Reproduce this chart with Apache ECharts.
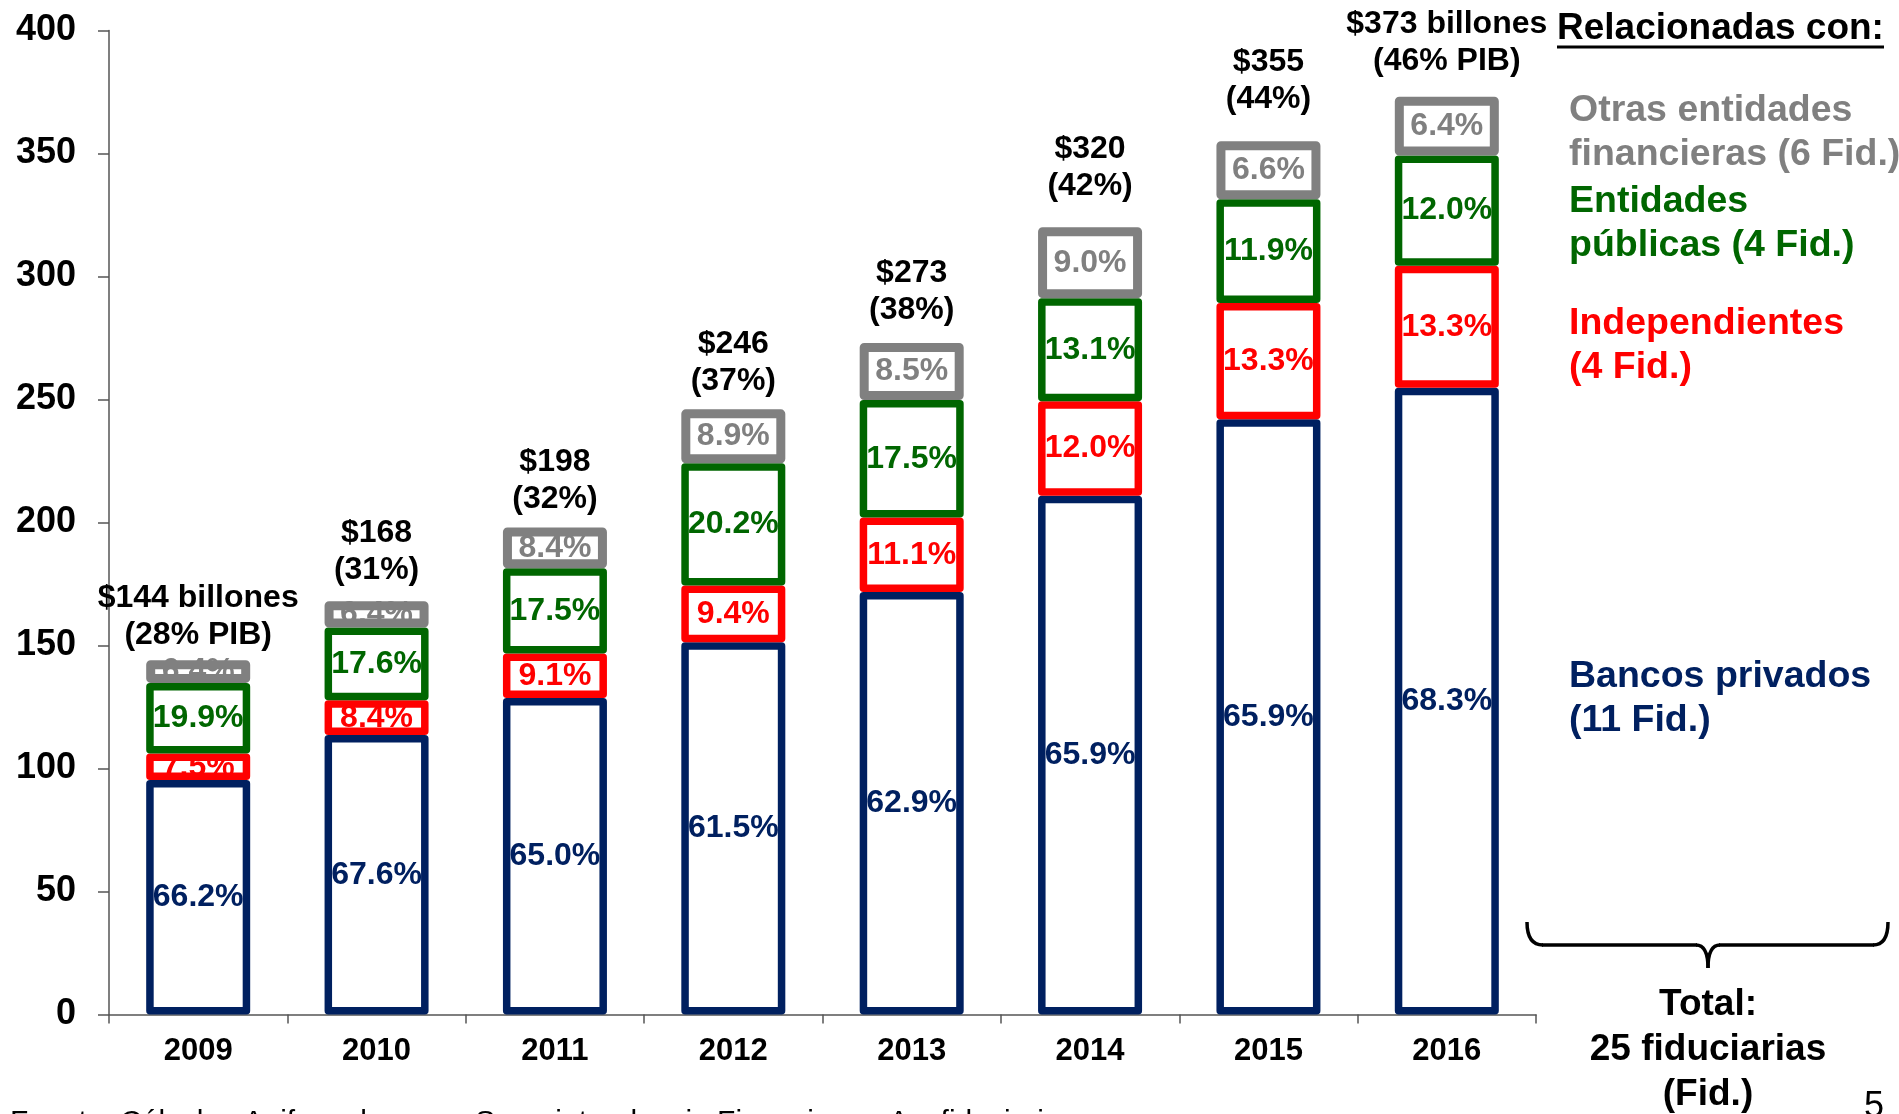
<!DOCTYPE html>
<html>
<head>
<meta charset="utf-8">
<script src="https://cdn.jsdelivr.net/npm/echarts@6/dist/echarts.min.js"></script>
<style>
html,body{margin:0;padding:0;background:#fff;}
#chart{width:1899px;height:1114px;}
</style>
</head>
<body>
<div id="chart"></div>
<script>
// ---- data (billones de pesos) ----
const years = ['2009', '2010', '2011', '2012', '2013', '2014', '2015', '2016'];
const bancos = [95.3, 113.6, 128.7, 151.3, 171.7, 210.9, 242.0, 254.8];
const independientes = [10.8, 14.1, 18.0, 23.1, 30.3, 38.4, 47.2, 49.6];
const publicas = [28.7, 29.6, 34.7, 49.7, 47.8, 41.9, 42.2, 44.8];
const otras = [9.2, 10.7, 16.6, 21.9, 23.2, 28.8, 23.6, 23.9];
const totals = [144, 168, 198, 246, 273, 320, 355, 373];
const totalLabels = ['$144 billones\n(28% PIB)', '$168\n(31%)', '$198\n(32%)', '$246\n(37%)',
  '$273\n(38%)', '$320\n(42%)', '$355\n(44%)', '$373 billones\n(46% PIB)'];
const pctBancos = ['66.2%', '67.6%', '65.0%', '61.5%', '62.9%', '65.9%', '65.9%', '68.3%'];
const pctIndep = ['7.5%', '8.4%', '9.1%', '9.4%', '11.1%', '12.0%', '13.3%', '13.3%'];
const pctPublicas = ['19.9%', '17.6%', '17.5%', '20.2%', '17.5%', '13.1%', '11.9%', '12.0%'];
const pctOtras = ['6.4%', '6.4%', '8.4%', '8.9%', '8.5%', '9.0%', '6.6%', '6.4%'];
const yTicks = { min: 0, max: 400, interval: 50 };

// ---- style ----
const FONT = '"Liberation Sans", Arial, sans-serif';
const NAVY = '#002060', RED = '#FF0000', GREEN = '#006600', GRAY = '#808080';
const BW = 104;
// small vertical nudges (px) of the hand-placed total labels
const totalLabelNudge = [8, 2, 5, 5, 0, -8, -9, -3];

function outlineSeries(name, data, color, border) {
  return {
    name, type: 'bar', stack: 'main', data, barWidth: BW, barGap: '-100%', z: 3,
    silent: true,
    itemStyle: { color: 'rgba(0,0,0,0)', borderColor: color, borderWidth: border, borderJoin: 'round' },
    label: { show: false }
  };
}
function labelSeries(name, data, color, texts) {
  return {
    name: name + '_lbl', type: 'bar', stack: 'lab', data, barWidth: BW, barGap: '-100%', z: 1,
    silent: true,
    itemStyle: { color: 'rgba(0,0,0,0)' },
    label: {
      show: true, position: 'inside', color: color, fontFamily: FONT, fontWeight: 'bold', fontSize: 32,
      formatter: p => texts[p.dataIndex]
    }
  };
}

const chart = echarts.init(document.getElementById('chart'), null, { renderer: 'canvas' });

const graphic = [
  { type: 'text', left: 1557, top: 10, style: { text: 'Relacionadas con:', font: 'bold 37px ' + FONT, fill: '#000' } },
  { type: 'line', shape: { x1: 1557, y1: 47, x2: 1884, y2: 47 }, style: { stroke: '#000', lineWidth: 3 } },
  { type: 'text', left: 1569, top: 89, style: { text: 'Otras entidades\nfinancieras (6 Fid.)', font: 'bold 37.5px ' + FONT, fill: GRAY, lineHeight: 44 } },
  { type: 'text', left: 1569, top: 180, style: { text: 'Entidades\npúblicas (4 Fid.)', font: 'bold 37.5px ' + FONT, fill: GREEN, lineHeight: 44 } },
  { type: 'text', left: 1569, top: 302, style: { text: 'Independientes\n(4 Fid.)', font: 'bold 37.5px ' + FONT, fill: RED, lineHeight: 44 } },
  { type: 'text', left: 1569, top: 655, style: { text: 'Bancos privados\n(11 Fid.)', font: 'bold 37.5px ' + FONT, fill: NAVY, lineHeight: 44 } },
  // bracket
  { type: 'bezierCurve', shape: { x1: 1527, y1: 922, x2: 1543, y2: 945, cpx1: 1527, cpy1: 945 }, style: { stroke: '#000', lineWidth: 3.5, fill: null } },
  { type: 'line', shape: { x1: 1542, y1: 945, x2: 1697, y2: 945 }, style: { stroke: '#000', lineWidth: 3.5 } },
  { type: 'bezierCurve', shape: { x1: 1696, y1: 945, x2: 1708, y2: 968, cpx1: 1708, cpy1: 945 }, style: { stroke: '#000', lineWidth: 3.5, fill: null } },
  { type: 'bezierCurve', shape: { x1: 1708, y1: 968, x2: 1720, y2: 945, cpx1: 1708, cpy1: 945 }, style: { stroke: '#000', lineWidth: 3.5, fill: null } },
  { type: 'line', shape: { x1: 1719, y1: 945, x2: 1874, y2: 945 }, style: { stroke: '#000', lineWidth: 3.5 } },
  { type: 'bezierCurve', shape: { x1: 1873, y1: 945, x2: 1888, y2: 922, cpx1: 1888, cpy1: 945 }, style: { stroke: '#000', lineWidth: 3.5, fill: null } },
  { type: 'text', x: 1708, y: 982, style: { text: 'Total:\n25 fiduciarias\n(Fid.)', font: 'bold 37px ' + FONT, fill: '#000', lineHeight: 45, align: 'center', verticalAlign: 'top' } },
  { type: 'text', x: 1874, y: 1089, style: { text: '5', font: '36px ' + FONT, fill: '#000', align: 'center', verticalAlign: 'top' } },
  { type: 'text', x: 10, y: 1108, style: { text: 'Fuente: Cálculos Anif con base en Superintendencia Financiera y Asofiduciarias.', font: '30px ' + FONT, fill: '#000', verticalAlign: 'top' } }
];

chart.setOption({
  animation: false,
  backgroundColor: '#fff',
  grid: { left: 109, right: 363, top: 30.5, bottom: 99.5, containLabel: false },
  xAxis: {
    type: 'category', data: years, boundaryGap: true,
    axisLine: { show: true, lineStyle: { color: '#555', width: 1.5 } },
    axisTick: { show: true, length: 9, lineStyle: { color: '#555', width: 1.5 } },
    axisLabel: { color: '#000', fontFamily: FONT, fontWeight: 'bold', fontSize: 31, lineHeight: 36, margin: 19 },
    splitLine: { show: false }
  },
  yAxis: {
    type: 'value', min: yTicks.min, max: yTicks.max, interval: yTicks.interval,
    axisLine: { show: true, lineStyle: { color: '#555', width: 1.5 } },
    axisTick: { show: true, length: 11, lineStyle: { color: '#555', width: 1.5 } },
    axisLabel: { color: '#000', fontFamily: FONT, fontWeight: 'bold', fontSize: 36, margin: 33 },
    splitLine: { show: false }
  },
  series: [
    labelSeries('Bancos privados', bancos, NAVY, pctBancos),
    labelSeries('Independientes', independientes, RED, pctIndep),
    labelSeries('Entidades públicas', publicas, GREEN, pctPublicas),
    labelSeries('Otras entidades', otras, GRAY, pctOtras),
    outlineSeries('Bancos privados', bancos, NAVY, 7.5),
    outlineSeries('Independientes', independientes, RED, 7.5),
    outlineSeries('Entidades públicas', publicas, GREEN, 7.5),
    outlineSeries('Otras entidades', otras, GRAY, 9),
    {
      name: 'Total', type: 'scatter', symbolSize: 1, z: 4, silent: true,
      data: totals.map((v, i) => ({ value: v, label: { offset: [0, totalLabelNudge[i]] } })),
      itemStyle: { color: 'rgba(0,0,0,0)', opacity: 1 },
      label: {
        show: true, position: 'top', distance: 14, color: '#000', opacity: 1, fontFamily: FONT, fontWeight: 'bold',
        fontSize: 32, lineHeight: 37, align: 'center',
        formatter: p => totalLabels[p.dataIndex]
      }
    }
  ],
  graphic: graphic
});
</script>
</body>
</html>
